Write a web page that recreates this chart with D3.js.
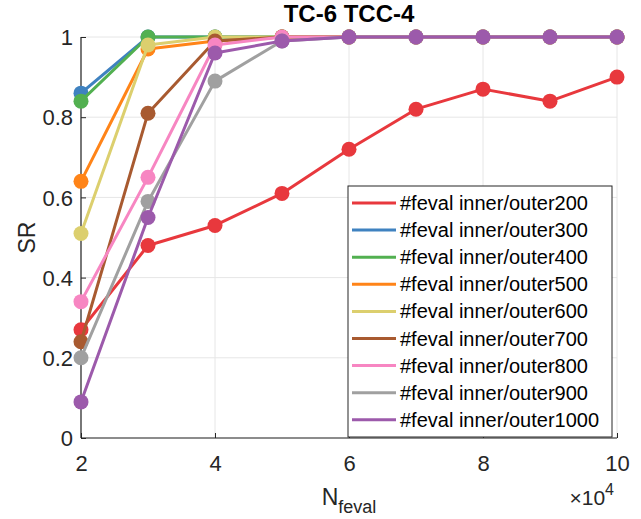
<!DOCTYPE html>
<html><head><meta charset="utf-8">
<script src="https://cdn.jsdelivr.net/npm/d3@7"></script>
<style>body{margin:0;background:#fff}svg{display:block;font-family:"Liberation Sans",Arial,sans-serif}</style>
</head><body><svg id="c" width="641" height="519"></svg>
<script>
const xValues = [2, 3, 4, 5, 6, 7, 8, 9, 10];
const seriesNames = ["#feval inner/outer200","#feval inner/outer300","#feval inner/outer400","#feval inner/outer500","#feval inner/outer600","#feval inner/outer700","#feval inner/outer800","#feval inner/outer900","#feval inner/outer1000"];
const s200  = [0.27, 0.48, 0.53, 0.61, 0.72, 0.82, 0.87, 0.84, 0.90];
const s300  = [0.86, 1.00, 1.00, 1.00, 1.00, 1.00, 1.00, 1.00, 1.00];
const s400  = [0.84, 1.00, 1.00, 1.00, 1.00, 1.00, 1.00, 1.00, 1.00];
const s500  = [0.64, 0.97, 0.99, 1.00, 1.00, 1.00, 1.00, 1.00, 1.00];
const s600  = [0.51, 0.98, 1.00, 1.00, 1.00, 1.00, 1.00, 1.00, 1.00];
const s700  = [0.24, 0.81, 0.99, 1.00, 1.00, 1.00, 1.00, 1.00, 1.00];
const s800  = [0.34, 0.65, 0.98, 1.00, 1.00, 1.00, 1.00, 1.00, 1.00];
const s900  = [0.20, 0.59, 0.89, 0.99, 1.00, 1.00, 1.00, 1.00, 1.00];
const s1000 = [0.09, 0.55, 0.96, 0.99, 1.00, 1.00, 1.00, 1.00, 1.00];
const colors = ["#e8383d","#3f82c0","#52b050","#ff8418","#dccf6e","#a85a30","#f786c2","#a0a0a0","#9c5aab"];
const xTicks = [2, 4, 6, 8, 10];
const yTicks = [0, 0.2, 0.4, 0.6, 0.8, 1];
const titleText = "TC-6 TCC-4";
const yLabel = "SR";

const allSeries = [s200,s300,s400,s500,s600,s700,s800,s900,s1000];
const svg = d3.select("#c");
const L = 81, R = 617, T = 37, B = 438;
const x = d3.scaleLinear().domain([2, 10]).range([L, R]);
const y = d3.scaleLinear().domain([0, 1]).range([B, T]);
const axisCol = "#262626";

// grid
const g = svg.append("g");
g.selectAll(".gx").data(xTicks).join("line")
  .attr("x1", d => x(d)).attr("x2", d => x(d)).attr("y1", T).attr("y2", B)
  .attr("stroke", "#e6e6e6").attr("stroke-width", 1);
g.selectAll(".gy").data(yTicks).join("line")
  .attr("x1", L).attr("x2", R).attr("y1", d => y(d)).attr("y2", d => y(d))
  .attr("stroke", "#e6e6e6").attr("stroke-width", 1);

// axes
const xAxis = d3.axisBottom(x).tickValues(xTicks).tickSize(-5).tickPadding(17).tickFormat(d3.format("d"));
const yAxis = d3.axisLeft(y).tickValues(yTicks).tickSize(-5).tickPadding(8).tickFormat(d => d === 0 || d === 1 ? String(d) : d3.format(".1f")(d));
const gx = svg.append("g").attr("transform", `translate(0,${B})`).call(xAxis);
const gy = svg.append("g").attr("transform", `translate(${L},0)`).call(yAxis);
[gx, gy].forEach(a => {
  a.select(".domain").attr("stroke", axisCol).attr("stroke-width", 1.2).attr("d", null);
  a.selectAll(".tick line").attr("stroke", axisCol);
  a.selectAll(".tick text").attr("fill", axisCol).style("font-size", "22px").style("font-family", "Liberation Sans, Arial, sans-serif");
});
gx.select(".domain").attr("d", `M${L},0H${R}`);
gy.select(".domain").attr("d", `M0,${T}V${B}`);
gx.selectAll(".tick text").attr("dy", "0.71em");
gy.selectAll(".tick text").attr("dy", "0.35em");

// series
const line = d3.line().x((d, i) => x(xValues[i])).y(d => y(d));
allSeries.forEach((s, k) => {
  const sg = svg.append("g");
  sg.append("path").attr("d", line(s)).attr("fill", "none").attr("stroke", colors[k]).attr("stroke-width", 3).attr("stroke-linejoin", "round");
  sg.selectAll("circle").data(s).join("circle")
    .attr("cx", (d, i) => x(xValues[i])).attr("cy", d => y(d)).attr("r", 7.5).attr("fill", colors[k]);
});

// title
svg.append("text").attr("x", (L + R) / 2).attr("y", 22).attr("text-anchor", "middle")
  .style("font-size", "24px").style("font-weight", "bold").attr("fill", "#000").text(titleText);

// y label
svg.append("text").attr("transform", `translate(35,${(T + B) / 2}) rotate(-90)`).attr("text-anchor", "middle")
  .style("font-size", "23px").attr("fill", axisCol).text(yLabel);

// x label
const xl = svg.append("text").attr("x", (L + R) / 2).attr("y", 505).attr("text-anchor", "middle").attr("fill", axisCol).style("font-size", "23px");
xl.append("tspan").text("N");
xl.append("tspan").attr("dy", 8).style("font-size", "18px").text("feval");

// exponent
const ex = svg.append("text").attr("x", 614).attr("y", 505).attr("text-anchor", "end").attr("fill", axisCol).style("font-size", "21px");
ex.append("tspan").text("×10");
ex.append("tspan").attr("dy", -10).style("font-size", "16px").text("4");

// legend
const lx = 348, ly = 186, lw = 264, lh = 251, rowH = 27.1;
const lg = svg.append("g");
lg.append("rect").attr("x", lx).attr("y", ly).attr("width", lw).attr("height", lh).attr("fill", "#fff").attr("stroke", axisCol).attr("stroke-width", 1);
seriesNames.forEach((n, k) => {
  const cy = ly + 17 + k * rowH;
  lg.append("line").attr("x1", lx + 4).attr("x2", lx + 48).attr("y1", cy).attr("y2", cy).attr("stroke", colors[k]).attr("stroke-width", 3);
  lg.append("text").attr("x", lx + 52).attr("y", cy).attr("dy", "0.35em").attr("fill", "#000").style("font-size", "20px").text(n);
});
</script></body></html>
